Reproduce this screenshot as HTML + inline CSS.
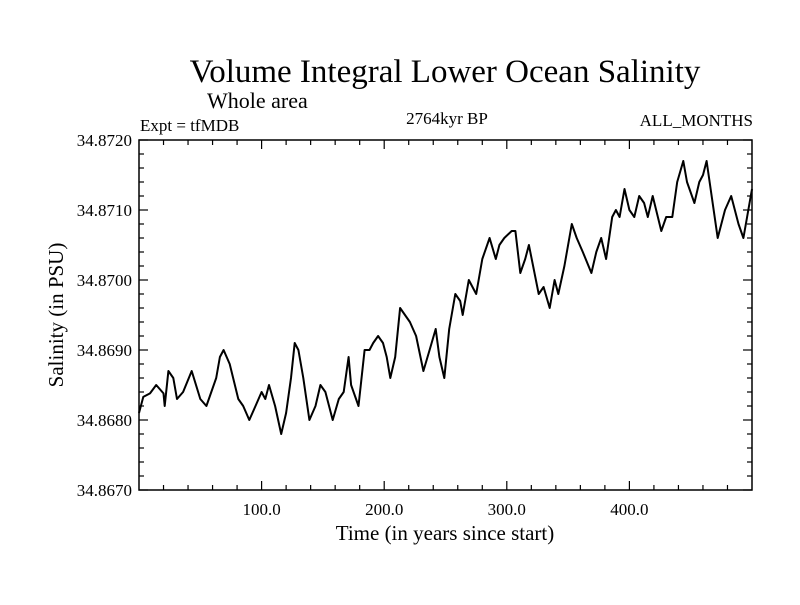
<!DOCTYPE html>
<html><head><meta charset="utf-8"><style>
body{margin:0;background:#fff;}
svg text{font-family:"Liberation Serif",serif;fill:#000;}
</style></head><body>
<svg id="chart" width="800" height="600">
<text x="445" y="82" font-size="33" text-anchor="middle">Volume Integral Lower Ocean Salinity</text>
<text x="207" y="108" font-size="22">Whole area</text>
<text x="140" y="131" font-size="17">Expt = tfMDB</text>
<text x="447" y="124" font-size="17" text-anchor="middle">2764kyr BP</text>
<text x="753" y="126" font-size="17" text-anchor="end">ALL_MONTHS</text>
<text x="445" y="540" font-size="21" text-anchor="middle">Time (in years since start)</text>
<text transform="translate(63,315) rotate(-90)" font-size="21" text-anchor="middle">Salinity (in PSU)</text>
<g id="axes"></g>
<path id="series" fill="none" stroke="#000" stroke-width="2" stroke-linejoin="round"></path>
<rect x="139" y="140" width="613" height="350" fill="none" stroke="#000" stroke-width="1.5"></rect>
</svg>
<script>
const years = [0,3.5,9,14,20,21,24,28,31,36,43,50,55,59,63,66,69,74,81,85,90,95,100,103,106,111,116,120,124,127,130,134,139,144,148,152,158,163,167,171,173,179,184,188,191,195,199,202,205,209,213,217,221,226,232,237,242,245,249,253,258,262,264,269,275,280,286,291,294,298,304,307,311,315,318,326,330,335,339,342,347,353,357,362,369,373,377,381,386,389,392,396,400,404,408,412,415,419,426,430,435,439,444,447,453,457,460,463,472,478,483,489,493,496,500];
const salinity = [34.8681,34.86833,34.86838,34.8685,34.86838,34.8682,34.8687,34.8686,34.8683,34.8684,34.8687,34.8683,34.8682,34.8684,34.8686,34.8689,34.8690,34.8688,34.8683,34.8682,34.8680,34.8682,34.8684,34.8683,34.8685,34.8682,34.8678,34.8681,34.8686,34.8691,34.8690,34.8686,34.8680,34.8682,34.8685,34.8684,34.8680,34.8683,34.8684,34.8689,34.8685,34.8682,34.8690,34.8690,34.8691,34.8692,34.8691,34.8689,34.8686,34.8689,34.8696,34.8695,34.8694,34.8692,34.8687,34.8690,34.8693,34.8689,34.8686,34.8693,34.8698,34.8697,34.8695,34.8700,34.8698,34.8703,34.8706,34.8703,34.8705,34.8706,34.8707,34.8707,34.8701,34.8703,34.8705,34.8698,34.8699,34.8696,34.8700,34.8698,34.8702,34.8708,34.8706,34.8704,34.8701,34.8704,34.8706,34.8703,34.8709,34.8710,34.8709,34.8713,34.8710,34.8709,34.8712,34.8711,34.8709,34.8712,34.8707,34.8709,34.8709,34.8714,34.8717,34.8714,34.8711,34.8714,34.8715,34.8717,34.8706,34.8710,34.8712,34.8708,34.8706,34.8709,34.8713];
const xTickValues = [100,200,300,400];
const xTickLabels = ["100.0","200.0","300.0","400.0"];
const yTickValues = [34.867,34.868,34.869,34.870,34.871,34.872];
const yTickLabels = ["34.8670","34.8680","34.8690","34.8700","34.8710","34.8720"];
const X0=139,X1=752,Y0=490,Y1=140,XMIN=0,XMAX=500,YMIN=34.867,YMAX=34.872;
const sx=v=>X0+(v-XMIN)/(XMAX-XMIN)*(X1-X0);
const sy=v=>Y0-(v-YMIN)/(YMAX-YMIN)*(Y0-Y1);
const ns="http://www.w3.org/2000/svg";
const axes=document.getElementById('axes');
function line(x1,y1,x2,y2,name){const l=document.createElementNS(ns,'line');
l.setAttribute('x1',x1);l.setAttribute('y1',y1);l.setAttribute('x2',x2);l.setAttribute('y2',y2);
l.setAttribute('stroke','#000');l.setAttribute('stroke-width','1.2');


axes.appendChild(l);}
function txt(x,y,s,anchor,name){const t=document.createElementNS(ns,'text');
t.setAttribute('x',x);t.setAttribute('y',y);t.setAttribute('font-size','17');t.setAttribute('text-anchor',anchor);t.textContent=s;


axes.appendChild(t);}
for(let v=20;v<XMAX;v+=20){const x=sx(v);const major=v%100===0;const L=major?9:5;
line(x,Y0,x,Y0-L,'x-tick');line(x,Y1,x,Y1+L,'x-tick-top');}
for(let i=0;i<=25;i++){const v=YMIN+i*0.0002;const y=sy(v);const major=i%5===0;const L=major?9:5;
line(X0,y,X0+L,y,'y-tick');line(X1,y,X1-L,y,'y-tick-right');}
xTickValues.forEach((v,i)=>txt(sx(v),515,xTickLabels[i],'middle','x-tick-label'));
yTickValues.forEach((v,i)=>txt(132,sy(v)+6,yTickLabels[i],'end','y-tick-label'));
document.getElementById('series').setAttribute('d',years.map((y,i)=>(i?'L':'M')+sx(y).toFixed(1)+','+sy(salinity[i]).toFixed(1)).join(''));
</script>
</body></html>
